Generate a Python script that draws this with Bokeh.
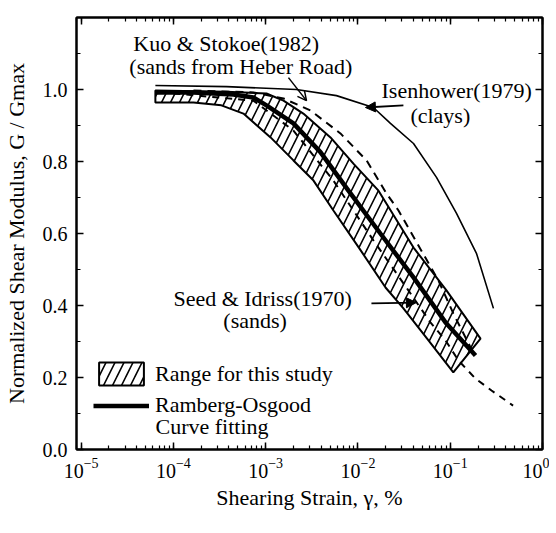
from bokeh.plotting import figure
from bokeh.models import (Label, Arrow, NormalHead, OpenHead, Legend, LegendItem,
                          LinearAxis, LogAxis, Range1d, SingleIntervalTicker,
                          PrintfTickFormatter, LogTicker, CustomJSTickFormatter)
from bokeh.embed import file_html
from bokeh.resources import INLINE

# ---- data (shearing strain in %, G/Gmax) ----
band_upper_x = [6.38e-5, 3.76e-4, 1.02e-3, 1.56e-3, 2.56e-3, 5.04e-3, 8.93e-3, 1.67e-2, 4.0e-2, 9.1e-2, 0.213]
band_upper_y = [0.997, 0.994, 0.989, 0.969, 0.933, 0.867, 0.794, 0.719, 0.561, 0.442, 0.308]

band_lower_x = [6.38e-5, 1.65e-4, 3.31e-4, 5.74e-4, 1.13e-3, 2.0e-3, 3.30e-3, 5.42e-3, 1.04e-2, 1.99e-2, 3.11e-2, 5.81e-2, 0.108]
band_lower_y = [0.964, 0.964, 0.956, 0.933, 0.867, 0.803, 0.747, 0.664, 0.558, 0.450, 0.392, 0.303, 0.214]

ro_x = [6.38e-5, 1.65e-4, 4.47e-4, 7.36e-4, 1.02e-3, 2.0e-3, 3.92e-3, 7.89e-3, 1.75e-2, 4.0e-2, 8.89e-2, 0.188]
ro_y = [0.992, 0.992, 0.986, 0.978, 0.956, 0.906, 0.826, 0.719, 0.600, 0.478, 0.353, 0.261]

isen_x = [6.38e-5, 3.76e-4, 2.15e-3, 5.85e-3, 1.47e-2, 2.25e-2, 4.0e-2, 7.1e-2, 0.117, 0.193, 0.294]
isen_y = [1.011, 1.008, 1.0, 0.983, 0.95, 0.906, 0.85, 0.756, 0.656, 0.544, 0.392]

kuo_x = [1.65e-4, 7.36e-4, 1.56e-3, 3.05e-3, 6.46e-3, 1.24e-2, 2.04e-2, 2.75e-2, 7.46e-2, 0.108, 0.179]
kuo_y = [0.997, 0.992, 0.975, 0.942, 0.878, 0.803, 0.711, 0.664, 0.469, 0.378, 0.267]

seed_x = [1.0e-4, 7.36e-4, 2.0e-3, 5.42e-3, 1.47e-2, 3.52e-2, 6.1e-2, 8.9e-2, 0.123, 0.188, 0.28, 0.48]
seed_y = [0.989, 0.969, 0.886, 0.747, 0.581, 0.442, 0.353, 0.303, 0.247, 0.197, 0.164, 0.122]

FONT = "Liberation Serif"
FS = "22px"
TFS = "20px"

p = figure(frame_width=466, frame_height=432, x_axis_type="log",
           x_range=Range1d(10 ** -5.05, 1.0), y_range=Range1d(0, 1.2),
           output_backend="svg", toolbar_location=None,
           min_border_left=75, min_border_right=7, min_border_top=17, min_border_bottom=76)
p.xgrid.visible = False
p.ygrid.visible = False
p.outline_line_color = "black"
p.outline_line_width = 2
p.background_fill_color = "white"
p.border_fill_color = "white"

xax = p.below[0]
yax = p.left[0]

yax.ticker = SingleIntervalTicker(interval=0.2, num_minor_ticks=2)
yax.formatter = PrintfTickFormatter(format="%.1f")
xax.ticker = LogTicker(num_minor_ticks=10)

for ax in (xax, yax):
    ax.axis_line_width = 2
    ax.axis_line_color = "black"
    ax.major_tick_in = 7
    ax.major_tick_out = 0
    ax.minor_tick_in = 4
    ax.minor_tick_out = 0
    ax.major_tick_line_width = 1.5
    ax.minor_tick_line_width = 1.2
    ax.major_label_text_font = FONT
    ax.major_label_text_font_size = TFS
    ax.major_label_text_color = "black"
    ax.axis_label_text_font = FONT
    ax.axis_label_text_font_size = FS
    ax.axis_label_text_font_style = "normal"
    ax.axis_label_text_color = "black"

yax.axis_label = "Normalized Shear Modulus, G / Gmax"
yax.major_label_standoff = 9
yax.axis_label_standoff = 11
xax.axis_label = "Shearing Strain, γ, %"
xax.major_label_standoff = 8
xax.axis_label_standoff = 4

right = LinearAxis(ticker=SingleIntervalTicker(interval=0.2, num_minor_ticks=2),
                   formatter=CustomJSTickFormatter(code="return ''"))
top = LogAxis(ticker=LogTicker(num_minor_ticks=10),
              formatter=CustomJSTickFormatter(code="return ''"))
for ax in (right, top):
    ax.axis_line_width = 2
    ax.major_tick_in = 7
    ax.major_tick_out = 0
    ax.minor_tick_in = 4
    ax.minor_tick_out = 0
    ax.major_tick_line_width = 1.5
    ax.minor_tick_line_width = 1.2
    ax.major_label_text_font_size = "0px"
    ax.major_label_standoff = 0
p.add_layout(right, "right")
p.add_layout(top, "above")

# band (range for this study)
band_x = band_lower_x + band_upper_x[::-1]
band_y = band_lower_y + band_upper_y[::-1]
band = p.patch(band_x, band_y, fill_color="white", fill_alpha=0.0,
               line_color="black", line_width=2,
               hatch_pattern="/", hatch_color="black", hatch_weight=1.6, hatch_scale=18)

isen = p.line(isen_x, isen_y, line_color="black", line_width=1.6)
kuo = p.line(kuo_x, kuo_y, line_color="black", line_width=2, line_dash="8 6")
seed = p.line(seed_x, seed_y, line_color="black", line_width=2, line_dash="7 6")
ro = p.line(ro_x, ro_y, line_color="black", line_width=4.5)

# annotations
def lab(x, y, t):
    p.add_layout(Label(x=x, y=y, text=t, text_font=FONT, text_font_size=FS,
                       text_baseline="middle", text_align="left", text_color="black"))

lab(3.68e-5, 1.128, "Kuo & Stokoe(1982)")
lab(3.33e-5, 1.064, "(sands from Heber Road)")
lab(0.018, 0.997, "Isenhower(1979)")
lab(0.037, 0.928, "(clays)")
lab(1.0e-4, 0.419, "Seed & Idriss(1970)")
lab(3.48e-4, 0.358, "(sands)")

p.add_layout(Arrow(x_start=1.766e-3, y_start=1.033, x_end=2.77e-3, y_end=0.969,
                   line_width=1.5, end=OpenHead(size=9, line_width=1.5)))
p.add_layout(Arrow(x_start=0.0311, y_start=0.956, x_end=0.01205, y_end=0.95,
                   line_width=1.8, end=NormalHead(size=10, fill_color="black")))
p.add_layout(Arrow(x_start=0.014, y_start=0.406, x_end=0.043, y_end=0.408,
                   line_width=1.8, end=NormalHead(size=10, fill_color="black")))

common = dict(label_text_font=FONT, label_text_font_size=FS, label_text_color="black",
              border_line_alpha=0, background_fill_alpha=0, padding=0, margin=0,
              spacing=0, label_standoff=6, glyph_width=56)
leg1 = Legend(items=[LegendItem(label="Range for this study", renderers=[band])],
              location=(17, 61), glyph_height=29, label_height=29, **common)
leg2 = Legend(items=[LegendItem(label="Ramberg-Osgood", renderers=[ro])],
              location=(17, 31), glyph_height=19, label_height=19, **common)
p.add_layout(leg1)
p.add_layout(leg2)
p.add_layout(Label(x=79, y=23, x_units="screen", y_units="screen", text="Curve fitting",
                   text_font=FONT, text_font_size=FS, text_baseline="middle",
                   text_align="left", text_color="black"))

open("out.html", "w").write(file_html(p, INLINE))
